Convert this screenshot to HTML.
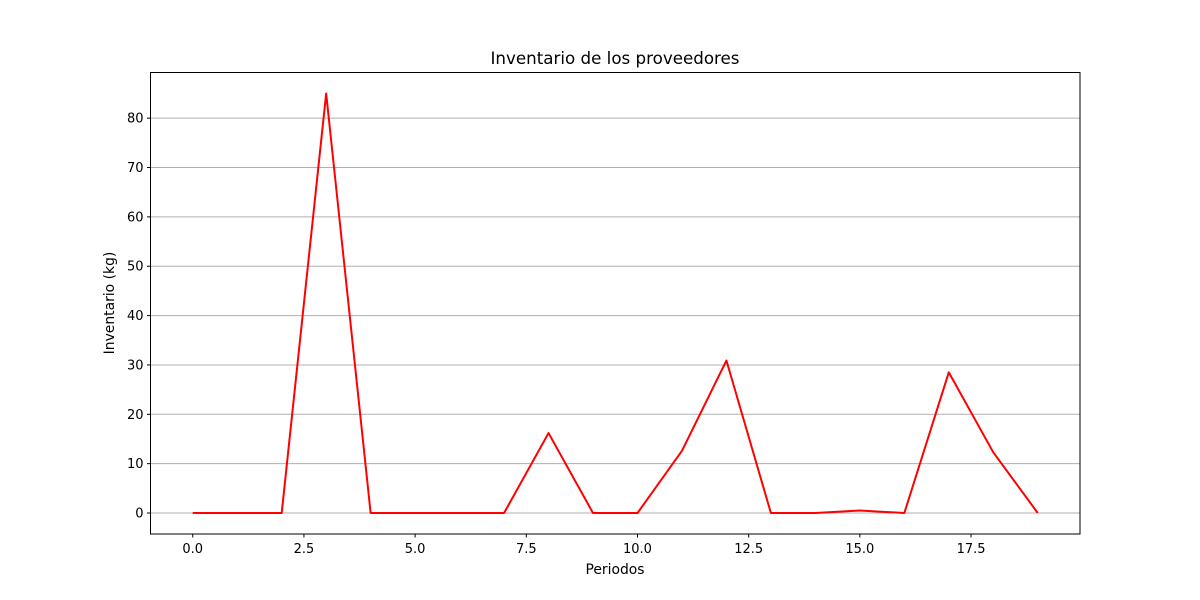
<!DOCTYPE html>
<html><head><meta charset="utf-8"><style>
body{margin:0;background:#fff;}
svg{display:block;font-family:"DejaVu Sans","Liberation Sans",sans-serif;}
</style></head><body>
<svg id="chart" width="1200" height="600">
<rect width="1200" height="600" fill="#fff"/>
<g id="grid"></g>
<g id="xticks"></g>
<g id="yticks"></g>
<polyline id="line" fill="none" stroke="#ff0000" stroke-width="2" stroke-linejoin="round"/>
<rect x="150.5" y="72.5" width="929.5" height="461.5" fill="none" stroke="#000" stroke-width="1"/>
<text x="615" y="64" text-anchor="middle" font-size="16.7">Inventario de los proveedores</text>
<text x="615" y="574" text-anchor="middle" font-size="13.9">Periodos</text>
<text transform="translate(114,303) rotate(-90)" text-anchor="middle" font-size="13.9">Inventario (kg)</text>
</svg>
<script>
const periods=[0,1,2,3,4,5,6,7,8,9,10,11,12,13,14,15,16,17,18,19];
const inventory=[0,0,0,85,0,0,0,0,16.2,0,0,12.6,30.9,0,0,0.5,0,28.5,12.3,0];
const xTicks=[0,2.5,5,7.5,10,12.5,15,17.5];
const xTickLabels=["0.0","2.5","5.0","7.5","10.0","12.5","15.0","17.5"];
const yTicks=[0,10,20,30,40,50,60,70,80];
const L=150.5,R=1080,T=72.5,B=534;
const xmin=-0.95,xmax=19.95,ymin=-4.25,ymax=89.25;
const xs=v=>L+(v-xmin)/(xmax-xmin)*(R-L);
const ys=v=>B-(v-ymin)/(ymax-ymin)*(B-T);
const NS="http://www.w3.org/2000/svg";
const grid=document.getElementById('grid'),xt=document.getElementById('xticks'),yt=document.getElementById('yticks');
yTicks.forEach(v=>{
 const y=ys(v);
 const g=document.createElementNS(NS,'line');
 g.setAttribute('x1',L);g.setAttribute('x2',R);g.setAttribute('y1',y);g.setAttribute('y2',y);
 g.setAttribute('stroke','#b0b0b0');g.setAttribute('stroke-width','1');
 
 
 grid.appendChild(g);
 const t=document.createElementNS(NS,'line');
 t.setAttribute('x1',L-3.5);t.setAttribute('x2',L);t.setAttribute('y1',y);t.setAttribute('y2',y);t.setAttribute('stroke','#000');
 
 
 yt.appendChild(t);
 const tx=document.createElementNS(NS,'text');
 tx.setAttribute('x',L-7);tx.setAttribute('y',y+4.5);tx.setAttribute('text-anchor','end');tx.setAttribute('font-size','13');
 tx.textContent=String(v);
 
 
 yt.appendChild(tx);
});
xTicks.forEach((v,i)=>{
 const x=xs(v);
 const t=document.createElementNS(NS,'line');
 t.setAttribute('x1',x);t.setAttribute('x2',x);t.setAttribute('y1',B);t.setAttribute('y2',B+3.5);t.setAttribute('stroke','#000');
 
 
 xt.appendChild(t);
 const tx=document.createElementNS(NS,'text');
 tx.setAttribute('x',x);tx.setAttribute('y',B+19);tx.setAttribute('text-anchor','middle');tx.setAttribute('font-size','13');
 tx.textContent=xTickLabels[i];
 
 
 xt.appendChild(tx);
});
document.getElementById('line').setAttribute('points',periods.map((p,i)=>xs(p)+','+ys(inventory[i])).join(' '));
</script>
</body></html>
